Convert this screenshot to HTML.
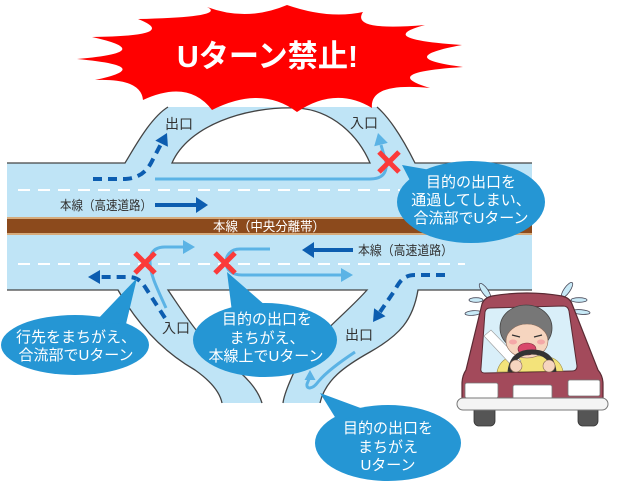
<!DOCTYPE html>
<html><head><meta charset="utf-8"><style>
html,body{margin:0;padding:0;background:#fff;}
svg{display:block;}
text{font-family:"Liberation Sans","Noto Sans CJK JP",sans-serif;}
</style></head><body>
<svg width="634" height="483" viewBox="0 0 634 483" xmlns="http://www.w3.org/2000/svg">
<rect width="634" height="483" fill="#fff"/>

<!-- road fills -->
<rect x="7" y="163" width="525" height="127" fill="#bfe4f6"/>
<path d="M125,163 C133,150 150,118 168,107 L377,107 C392,120 405,143 415,163 Z" fill="#bfe4f6"/>
<path d="M172,163 C188,126 245,106 297,108 C332,110 358,135 370,163 Z" fill="#fff" stroke="#444" stroke-width="1.3"/>
<path d="M118,290 C135,320 160,350 195,370 C212,382 220,393 222,403 L262,403 C258,390 248,378 228,362 C200,340 185,315 168,290 Z" fill="#bfe4f6"/>
<path d="M367,290 C345,315 310,340 295,370 C288,385 284,395 283,403 L320,403 C325,380 345,366 370,352 C400,335 413,320 418,290 Z" fill="#bfe4f6"/>

<!-- edge lines -->
<g fill="none" stroke="#444" stroke-width="1.3">
<path d="M7,163 L125,163 C133,150 150,118 168,107"/>
<path d="M377,107 C392,120 405,143 415,163 L532,163"/>
<path d="M7,290 L118,290 C135,320 160,350 195,370 C212,382 220,393 222,403"/>
<path d="M262,403 C258,390 248,378 228,362 C200,340 185,315 168,290 L367,290 C345,315 310,340 295,370 C288,385 284,395 283,403"/>
<path d="M320,403 C325,380 345,366 370,352 C400,335 413,320 418,290 L532,290"/>
</g>

<!-- median -->
<rect x="7" y="217" width="525" height="18" fill="#d6ab7c"/>
<rect x="7" y="219" width="525" height="14" fill="#8c4a1c"/>
<text x="213" y="231" font-size="13" fill="#fff" textLength="112" lengthAdjust="spacingAndGlyphs">本線（中央分離帯）</text>

<!-- lane dashes -->
<line x1="18" y1="190" x2="400" y2="190" stroke="#fff" stroke-width="2" stroke-dasharray="12 8"/>
<line x1="18" y1="264" x2="465" y2="264" stroke="#fff" stroke-width="2" stroke-dasharray="12 8"/>

<!-- labels -->
<g font-size="13" fill="#333">
<text x="60" y="210" textLength="92" lengthAdjust="spacingAndGlyphs">本線（高速道路）</text>
<text x="358" y="255" textLength="95" lengthAdjust="spacingAndGlyphs">本線（高速道路）</text>
</g>
<g font-size="14" fill="#333">
<text x="165" y="129">出口</text>
<text x="350" y="128">入口</text>
<text x="162" y="333">入口</text>
<text x="345" y="340">出口</text>
</g>

<!-- dark arrows -->
<g fill="#0c5db0">
<rect x="155" y="203" width="42" height="4"/>
<polygon points="208,205 196,197 196,213"/>
<rect x="313" y="248" width="40" height="4"/>
<polygon points="302,250 314,242 314,258"/>
</g>

<!-- light arrows -->
<g fill="none" stroke="#5bb3e5" stroke-width="3">
<path d="M155,179 L370,179 Q388,179 386,162 L381,145"/>
<path d="M166,308 C158,290 150,275 150,262 C150,252 155,247 165,247 L184,247"/>
<path d="M270,249 L240,249 C230,249 226,256 226,262 C226,270 232,275 242,275 L342,275"/>
<path d="M355,352 C340,362 326,372 318,382 C313,389 306,390 307,384 L309,379"/>
</g>
<g fill="#5bb3e5">
<polygon points="378,133 387.8,142.9 374.2,146.3"/>
<polygon points="195,247 183,240 183,254"/>
<polygon points="353,275 341,268 341,282"/>
<polygon points="310,370 304.5,380 315.5,380"/>
</g>

<!-- dark dashed arrows -->
<g fill="none" stroke="#0c5db0" stroke-width="4" stroke-dasharray="9 6">
<path d="M93,179 L123,179 C138,179 146,172 151,163 L161,144"/>
<path d="M165,318 L147,290 C142,282 138,277 128,277 L100,277"/>
<path d="M445,275 L415,275 C405,275 400,280 395,290 L380,312"/>
</g>
<g fill="#0c5db0">
<polygon points="167,133 167.9,146.8 155.3,140.6"/>
<polygon points="88,277 100,270 100,284"/>
<polygon points="373,322 385.5,316.2 374.1,308.2"/>
</g>

<!-- red X marks -->
<g stroke="#fb3a3a" stroke-width="5" stroke-linecap="butt">
<path d="M379,152 L399,172 M399,152 L379,172"/>
<path d="M135,253 L155,273 M155,253 L135,273"/>
<path d="M215,253 L235,273 M235,253 L215,273"/>
</g>

<!-- starburst -->
<path d="M77,59 Q159.5,52 92,37 Q181,36 138,19 Q227.5,17 207,7 Q247,22 287,5 Q329,19.5 363,12 Q350,31.5 425,25 Q372.5,39 462,45 Q391.5,58 463,67 Q377.5,72.5 430,88 Q369,82 372,108 Q335.5,86 297,112 Q261.5,85 212,110 Q188.5,79 143,100 Q141,78 95,80 Q158,66.5 77,59 Z" fill="#ff0000"/>
<text x="177" y="67" font-size="31" font-weight="bold" fill="#fff" textLength="181" lengthAdjust="spacingAndGlyphs">Uターン禁止!</text>

<!-- bubbles -->
<g fill="#2596d4">
<ellipse cx="471" cy="202" rx="74" ry="41"/>
<polygon points="402,165 416,192 442,172"/>
<ellipse cx="75" cy="345" rx="74" ry="30"/>
<polygon points="137,278 95,322 126,324"/>
<ellipse cx="265" cy="340" rx="72" ry="37"/>
<polygon points="227,272 232,312 266,306"/>
<ellipse cx="388" cy="443" rx="73" ry="38"/>
<polygon points="320,393 338,422 366,410"/>
</g>
<g font-size="15" fill="#fff" text-anchor="middle">
<text x="471" y="187">目的の出口を</text>
<text x="471" y="205">通過してしまい、</text>
<text x="471" y="223">合流部でUターン</text>
<text x="76" y="342">行先をまちがえ、</text>
<text x="76" y="360">合流部でUターン</text>
<text x="267" y="324">目的の出口を</text>
<text x="267" y="343">まちがえ、</text>
<text x="266" y="361">本線上でUターン</text>
<text x="388" y="433">目的の出口を</text>
<text x="388" y="452">まちがえ</text>
<text x="388" y="470">Uターン</text>
</g>

<!-- car -->
<g stroke="#4a4a5a" stroke-width="0.8" fill="#c8eaf7">
<ellipse cx="485" cy="291" rx="3" ry="9" transform="rotate(-35 485 291)"/>
<ellipse cx="476" cy="300" rx="7" ry="2.3"/>
<ellipse cx="473" cy="313" rx="8" ry="2.3" transform="rotate(-5 473 313)"/>
<ellipse cx="567" cy="290" rx="3" ry="9" transform="rotate(35 567 290)"/>
<ellipse cx="579" cy="300" rx="8" ry="2.3"/>
<ellipse cx="581" cy="312" rx="9" ry="2.3" transform="rotate(5 581 312)"/>
</g>
<rect x="474" y="404" width="21" height="22" rx="5" fill="#555" stroke="#333" stroke-width="0.8"/>
<rect x="578" y="404" width="20" height="22" rx="5" fill="#555" stroke="#333" stroke-width="0.8"/>
<path d="M492,296 Q527,290 562,296 Q570,298 572,304 L598,370 Q603,376 603,384 L603,400 L462,400 L462,384 Q462,376 466,370 L482,304 Q484,298 492,296 Z" fill="#a34a5b" stroke="#5a2a33" stroke-width="1.2"/>
<path d="M490,308 L563,306 Q568,306 569,311 L577,366 Q577,371 572,371 L485,373 Q480,373 481,368 L485,312 Q486,308 490,308 Z" fill="#d9eff9" stroke="#5a2a33" stroke-width="1"/>
<path d="M497,372 Q500,358 515,356 L545,356 Q560,358 563,371 Z" fill="#f3e37a" stroke="#9a8a40" stroke-width="0.6"/>
<path d="M484,336 L491,330 L521,361 L513,367 Z" fill="#fff" stroke="#999" stroke-width="0.6"/>
<ellipse cx="526" cy="328" rx="26" ry="23" fill="#777" stroke="#444" stroke-width="0.8"/>
<ellipse cx="527" cy="341" rx="21" ry="17" fill="#f6d5bf" stroke="#8a6a5a" stroke-width="0.6"/>
<path d="M512,335 L520,337 M534,337 L542,335" stroke="#333" stroke-width="1.2" fill="none"/>
<ellipse cx="513" cy="342" rx="4" ry="2.5" fill="#f4a8a8"/>
<ellipse cx="541" cy="342" rx="4" ry="2.5" fill="#f4a8a8"/>
<ellipse cx="527" cy="349" rx="9" ry="6" fill="#d9486a" stroke="#7a2a3a" stroke-width="0.6"/>
<path d="M510,372 Q512,352 532,352 Q552,352 554,372" fill="none" stroke="#333" stroke-width="5"/>
<circle cx="516" cy="366" r="6" fill="#f6d5bf" stroke="#8a6a5a" stroke-width="0.6"/>
<circle cx="549" cy="366" r="6" fill="#f6d5bf" stroke="#8a6a5a" stroke-width="0.6"/>
<g fill="#fff" stroke="#777" stroke-width="0.8">
<rect x="465" y="383" width="33" height="15" rx="2"/>
<rect x="513" y="385" width="39" height="15" rx="2"/>
<rect x="568" y="380" width="32" height="16" rx="2"/>
</g>
<rect x="457" y="398" width="151" height="12" rx="6" fill="#f4f4f4" stroke="#777" stroke-width="1"/>
</svg>
</body></html>
